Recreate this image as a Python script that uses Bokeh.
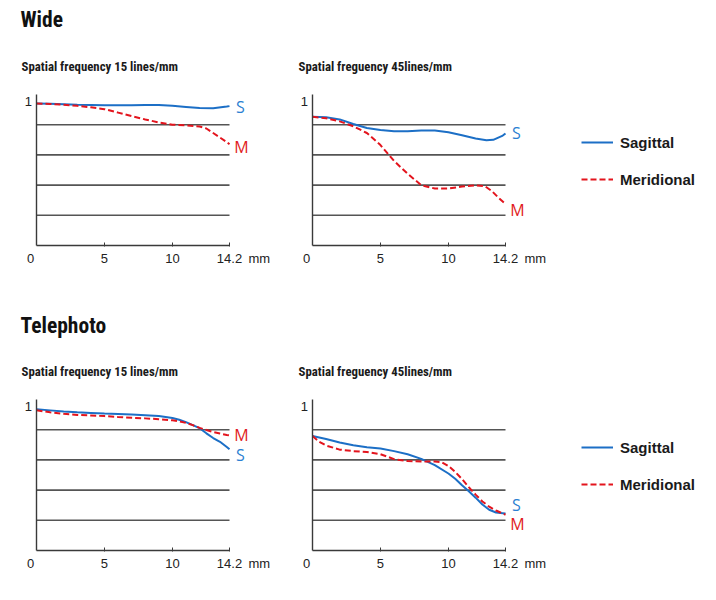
from bokeh.plotting import figure
from bokeh.models import Range1d, FixedTicker, Label, Legend, LegendItem
from bokeh.layouts import row, column
from bokeh.embed import file_html
from bokeh.resources import INLINE

# ---------------- data ----------------
X_MAX = 14.2
x_ticks = [5, 10, 14.2]
grid_levels = [0.2, 0.4, 0.6, 0.8]

# Wide, 15 lines/mm
wide15_sag_x = [0, 1, 2, 3, 4, 5, 6, 7, 8, 9, 10, 11, 12, 13, 14, 14.2]
wide15_sag_y = [0.941, 0.938, 0.935, 0.932, 0.930, 0.928, 0.928, 0.929, 0.930, 0.930,
                0.926, 0.918, 0.910, 0.909, 0.920, 0.923]
wide15_mer_x = [0, 1, 2, 3, 4, 5, 6, 7, 8, 9, 10, 11, 12, 12.5, 13, 13.5, 14, 14.2]
wide15_mer_y = [0.941, 0.937, 0.932, 0.925, 0.915, 0.903, 0.880, 0.857, 0.835, 0.815,
                0.800, 0.795, 0.788, 0.775, 0.745, 0.715, 0.685, 0.670]

# Wide, 45 lines/mm
wide45_sag_x = [0, 1, 2, 3, 4, 5, 6, 7, 8, 9, 10, 11, 12, 12.8, 13.3, 14, 14.2]
wide45_sag_y = [0.852, 0.850, 0.835, 0.805, 0.778, 0.765, 0.757, 0.756, 0.762, 0.762,
                0.750, 0.730, 0.708, 0.697, 0.700, 0.728, 0.742]
wide45_mer_x = [0, 1, 2, 3, 4, 5, 6, 7, 8, 9, 10, 11, 12, 12.7, 13.2, 13.7, 14.2]
wide45_mer_y = [0.852, 0.843, 0.822, 0.790, 0.745, 0.665, 0.560, 0.475, 0.400, 0.377,
                0.378, 0.390, 0.398, 0.392, 0.360, 0.315, 0.275]

# Telephoto, 15 lines/mm
tele15_sag_x = [0, 1, 2, 3, 4, 5, 6, 7, 8, 9, 10, 10.5, 11, 12, 12.5, 13, 13.5, 14, 14.2]
tele15_sag_y = [0.936, 0.928, 0.920, 0.915, 0.911, 0.907, 0.904, 0.900, 0.896, 0.891,
                0.878, 0.866, 0.850, 0.810, 0.776, 0.745, 0.720, 0.685, 0.670]
tele15_mer_x = [0, 1, 2, 3, 4, 5, 6, 7, 8, 9, 10, 10.5, 11, 11.5, 12, 12.5, 13, 13.5, 14, 14.2]
tele15_mer_y = [0.929, 0.915, 0.905, 0.898, 0.894, 0.890, 0.884, 0.879, 0.875, 0.870,
                0.862, 0.855, 0.845, 0.830, 0.812, 0.798, 0.785, 0.775, 0.765, 0.762]

# Telephoto, 45 lines/mm
tele45_sag_x = [0, 1, 2, 3, 4, 5, 6, 7, 8, 9, 10, 10.5, 11, 11.5, 12, 12.5, 13, 13.5, 14, 14.2]
tele45_sag_y = [0.758, 0.738, 0.715, 0.697, 0.684, 0.675, 0.658, 0.637, 0.607, 0.565,
                0.510, 0.475, 0.432, 0.392, 0.350, 0.305, 0.270, 0.252, 0.247, 0.245]
tele45_mer_x = [0, 0.5, 1, 2, 3, 4, 5, 6, 7, 8, 9, 9.5, 10, 10.5, 11, 11.5, 12, 12.5, 13, 13.5, 14, 14.2]
tele45_mer_y = [0.758, 0.720, 0.695, 0.668, 0.658, 0.652, 0.638, 0.605, 0.592, 0.590, 0.589,
                0.585, 0.560, 0.520, 0.473, 0.420, 0.370, 0.325, 0.290, 0.265, 0.245, 0.237]

headings = ["Wide", "Telephoto"]
subtitles = ["Spatial frequency 15 lines/mm", "Spatial freguency 45lines/mm"]
series_names = ["Sagittal", "Meridional"]
series_letters = ["S", "M"]

# ---------------- styles ----------------
BLUE = "#1c6fc6"
RED = "#e3141d"
S_COL = "#2b7fd2"
M_COL = "#e11b24"
GRID = "#555555"
AXIS = "#3a3a3a"
TXT = "#222222"
NARROW = "Roboto Condensed, DejaVu Sans Condensed, Arial Narrow, Roboto, sans-serif"
SANS = "Liberation Sans"
LETTER = "Open Sans"

KX = 193 / X_MAX   # pixels per mm
KY = 151           # pixels per unit of MTF


def label(p, x, y, text, dx, dy, align, font, size, color, style="normal"):
    p.add_layout(Label(x=x, y=y, x_offset=dx, y_offset=dy, text=text, text_align=align,
                       text_baseline="middle", text_font=font, text_font_size=size,
                       text_color=color, text_font_style=style))


def panel(sx, sy, mx, my, width, height, ax_px, ax_py, subtitle, sub_dx,
          s_dy, m_dy, heading=None, head_dy=75):
    p = figure(width=width, height=height,
               x_range=Range1d(-ax_px / KX, (width - ax_px) / KX),
               y_range=Range1d(-(height - ax_py) / KY, ax_py / KY),
               output_backend="svg", toolbar_location=None, min_border=0)
    p.title.visible = False
    p.outline_line_color = None
    p.background_fill_color = "white"
    p.border_fill_color = "white"
    p.xgrid.visible = False
    p.ygrid.visible = False

    n = len(grid_levels)
    p.segment(x0=[0] * n, y0=grid_levels, x1=[X_MAX] * n, y1=grid_levels,
              line_color=GRID, line_width=1.6)

    p.yaxis.fixed_location = 0
    p.yaxis.bounds = (0, 1)
    p.yaxis.ticker = FixedTicker(ticks=[])
    p.yaxis.axis_line_color = AXIS
    p.yaxis.axis_line_width = 1.4
    p.yaxis.major_tick_line_color = None
    p.yaxis.minor_tick_line_color = None

    p.xaxis.fixed_location = 0
    p.xaxis.bounds = (0, X_MAX)
    p.xaxis.ticker = FixedTicker(ticks=x_ticks)
    p.xaxis.axis_line_color = AXIS
    p.xaxis.axis_line_width = 1.4
    p.xaxis.major_tick_line_color = AXIS
    p.xaxis.major_tick_in = 3
    p.xaxis.major_tick_out = 1
    p.xaxis.minor_tick_line_color = None
    p.xaxis.major_label_standoff = 7
    p.xaxis.major_label_text_font = SANS
    p.xaxis.major_label_text_font_size = "13px"
    p.xaxis.major_label_text_color = TXT

    rs = p.line(sx, sy, line_color=BLUE, line_width=2)
    rm = p.line(mx, my, line_color=RED, line_width=2, line_dash="6 3")

    label(p, 0, 1, "1", -4.5, -6.5, "right", SANS, "13px", TXT)
    label(p, 0, 0, "0", -6, -12.5, "center", SANS, "13px", TXT)
    label(p, X_MAX, 0, "mm", 19, -12.5, "left", SANS, "13px", TXT)
    label(p, sx[-1], sy[-1], series_letters[0], 11, s_dy, "center", LETTER, "16px", S_COL)
    label(p, mx[-1], my[-1], series_letters[1], 12, m_dy, "center", LETTER, "16px", M_COL)
    label(p, 0, 1, subtitle, sub_dx, 28.5, "left", NARROW, "12.8px", "#1a1a1a", "bold")
    if heading is not None:
        label(p, 0, 1, heading, -16, head_dy, "left", NARROW, "21.5px", "#111111", "bold")
    return p, rs, rm


def add_legend(p, rs, rm, loc):
    leg = Legend(items=[LegendItem(label=series_names[0], renderers=[rs]),
                        LegendItem(label=series_names[1], renderers=[rm])],
                 location=loc, orientation="vertical",
                 padding=0, margin=0, spacing=17, glyph_width=32, glyph_height=20,
                 label_height=20, label_standoff=7,
                 label_text_font=SANS, label_text_font_style="bold",
                 label_text_font_size="15px", label_text_color="#1a1a1a",
                 border_line_color=None, background_fill_alpha=0)
    p.add_layout(leg, "center")


p1, _, _ = panel(wide15_sag_x, wide15_sag_y, wide15_mer_x, wide15_mer_y,
                 282, 300, 36, 245, subtitles[0], -15, -1, -3, heading=headings[0], head_dy=75.5)
p2, r2s, r2m = panel(wide45_sag_x, wide45_sag_y, wide45_mer_x, wide45_mer_y,
                     418, 300, 30, 245, subtitles[1], -14, 0, -6)
add_legend(p2, r2s, r2m, (299, 111))

p3, _, _ = panel(tele15_sag_x, tele15_sag_y, tele15_mer_x, tele15_mer_y,
                 282, 284, 36, 250, subtitles[0], -15, -6, 0, heading=headings[1], head_dy=74)
p4, r4s, r4m = panel(tele45_sag_x, tele45_sag_y, tele45_mer_x, tele45_mer_y,
                     418, 284, 30, 250, subtitles[1], -14, 9, -9)
add_legend(p4, r4s, r4m, (299, 90))

layout = column(row(p1, p2), row(p3, p4))

open("out.html", "w").write(file_html(layout, INLINE))
